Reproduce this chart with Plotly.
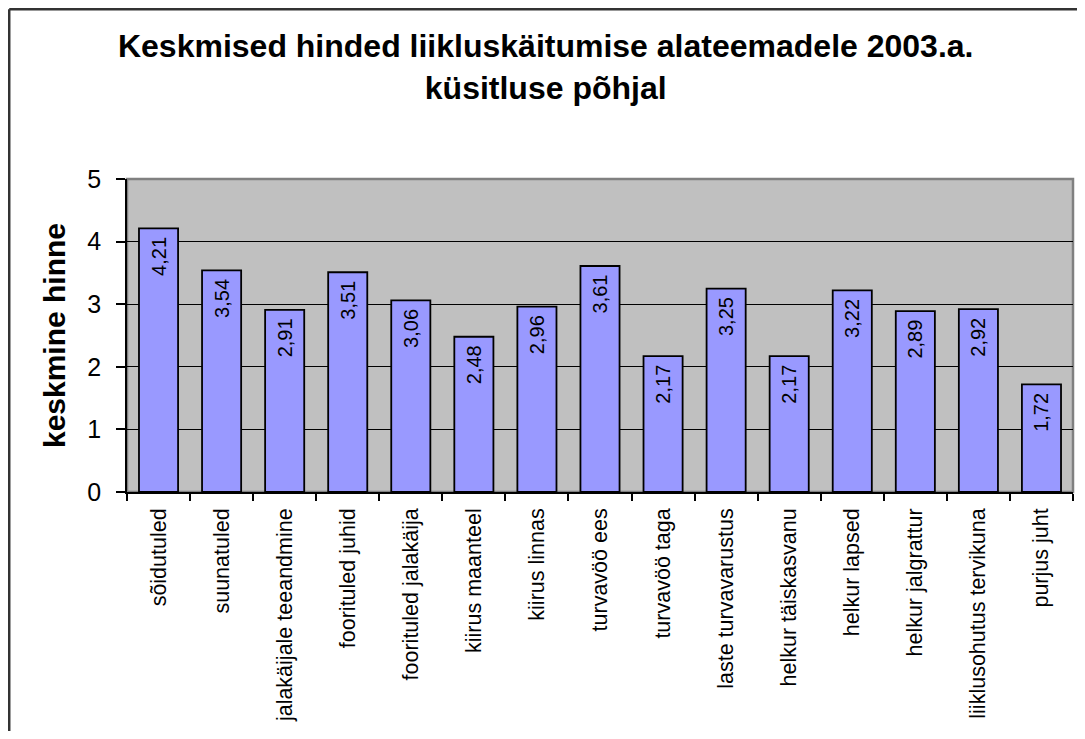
import plotly.graph_objects as go

categories = ["sõidutuled", "suunatuled", "jalakäijale teeandmine", "foorituled juhid",
              "foorituled jalakäija", "kiirus maanteel", "kiirus linnas", "turvavöö ees",
              "turvavöö taga", "laste turvavarustus", "helkur täiskasvanu", "helkur lapsed",
              "helkur jalgrattur", "liiklusohutus tervikuna", "purjus juht"]
hinne = [4.21, 3.54, 2.91, 3.51, 3.06, 2.48, 2.96, 3.61, 2.17, 3.25, 2.17, 3.22, 2.89, 2.92, 1.72]
y_ticks = [0, 1, 2, 3, 4, 5]

FONT = "Liberation Sans, Arial, sans-serif"

fig = go.Figure()
fig.add_trace(go.Bar(
    x=categories,
    y=hinne,
    marker=dict(color="#9999FF", line=dict(color="black", width=1.8)),
    texttemplate="%{y:.2f}\u00a0",
    textposition="inside",
    insidetextanchor="end",
    textangle=-90,
    textfont=dict(family=FONT, size=20, color="black"),
    cliponaxis=False,
))

# plot area frame (grey top/right like Excel)
fig.add_shape(type="rect", xref="paper", yref="paper", x0=0, x1=1, y0=0, y1=1,
              line=dict(color="#808080", width=2.5), layer="below")
# outer chart border, left and top
fig.add_shape(type="line", xref="paper", yref="paper", x0=-0.1245, x1=-0.1245, y0=-1, y1=1.5425,
              line=dict(color="#333333", width=2.5))
fig.add_shape(type="line", xref="paper", yref="paper", x0=-0.1245, x1=1.1, y0=1.5425, y1=1.5425,
              line=dict(color="#333333", width=2.5))

# page body has an 8px margin, so the figure is sized to fit inside it
fig.update_layout(
    width=1069, height=723,
    margin=dict(l=119, r=4, t=171, b=239),
    paper_bgcolor="white",
    plot_bgcolor="#C0C0C0",
    separators=", ",
    showlegend=False,
    bargap=0.38,
    font=dict(family=FONT, color="black"),
    title=dict(
        text="<b>Keskmised hinded liikluskäitumise alateemadele 2003.a.<br>küsitluse põhjal</b>",
        x=0.503, xanchor="center", xref="container",
        y=0.932, yanchor="top", yref="container",
        font=dict(family=FONT, size=32, color="black"),
    ),
)
fig.update_xaxes(
    tickangle=-90,
    tickfont=dict(family=FONT, size=21.5, color="black"),
    ticks="outside", tickson="boundaries", ticklen=7, tickcolor="black", tickwidth=1.5,
    ticklabelstandoff=6,
    showline=True, linecolor="black", linewidth=1.5,
    showgrid=False,
)
fig.update_yaxes(
    range=[0, 5],
    tickvals=y_ticks,
    tickfont=dict(family=FONT, size=25, color="black"),
    ticks="outside", ticklen=9, tickcolor="black", tickwidth=1.5,
    ticklabelstandoff=10,
    showline=True, linecolor="black", linewidth=1.5,
    showgrid=True, gridcolor="black", gridwidth=1,
    zeroline=False,
    title=dict(text="<b>keskmine hinne</b>", font=dict(family=FONT, size=30, color="black"), standoff=13),
)

fig.write_html("out.html")
